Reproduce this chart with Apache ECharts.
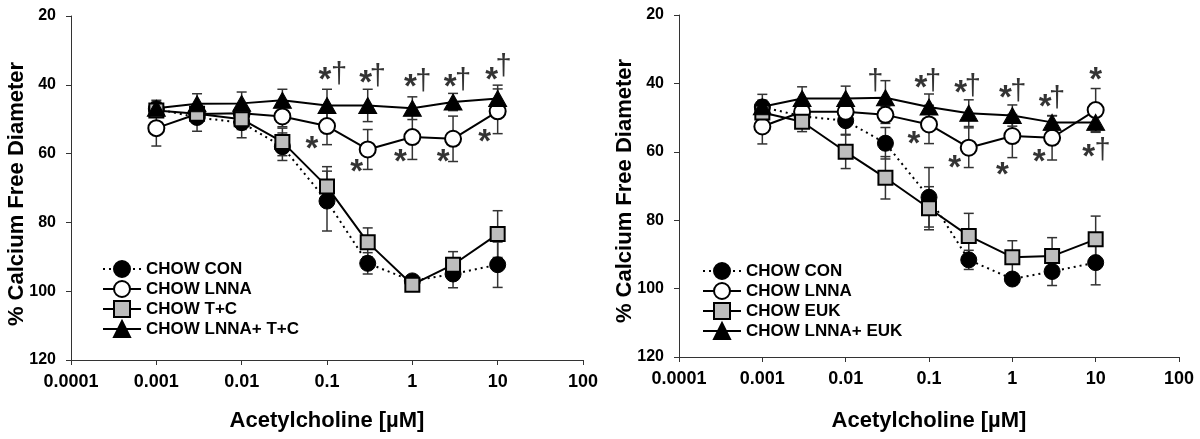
<!DOCTYPE html>
<html><head><meta charset="utf-8">
<script src="https://cdn.jsdelivr.net/npm/echarts@6/dist/echarts.min.js"></script>
<style>html,body{margin:0;padding:0;background:#fff}#c{width:1200px;height:439px}</style>
</head><body><div id="c"></div>
<script>
// ---- data ----
const doses = [0.001, 0.003, 0.01, 0.03, 0.1, 0.3, 1, 3, 10];
const xTickLabels = ['0.0001', '0.001', '0.01', '0.1', '1', '10', '100'];
const yTickLabels = ['20', '40', '60', '80', '100', '120'];
const namesLeft = ['CHOW CON', 'CHOW LNNA', 'CHOW T+C', 'CHOW LNNA+ T+C'];
const namesRight = ['CHOW CON', 'CHOW LNNA', 'CHOW EUK', 'CHOW LNNA+ EUK'];

const conLeft      = [47.0, 49.5, 51.0, 58.0, 73.8, 91.9, 97.0, 95.0, 92.3];
const conLeftErr   = [2.0, 4.0, 4.4, 4.0, 8.7, 3.1, 1.0, 4.0, 6.6];
const lnnaLeft     = [52.6, 48.5, 48.3, 49.2, 52.0, 58.8, 55.2, 55.7, 47.7];
const lnnaLeftErr  = [5.2, 2.5, 2.5, 3.0, 5.4, 5.8, 6.5, 6.6, 6.5];
const tcLeft       = [47.5, 48.4, 50.0, 56.6, 69.6, 85.8, 98.1, 92.3, 83.4];
const tcLeftErr    = [1.5, 2.0, 3.0, 4.0, 5.8, 4.2, 1.0, 3.8, 6.8];
const lnnaTcLeft   = [46.8, 45.5, 45.4, 44.5, 46.0, 46.0, 46.8, 45.0, 44.0];
const lnnaTcLeftErr= [2.3, 2.9, 3.3, 3.2, 4.7, 4.7, 3.3, 2.5, 3.9];

const conRight      = [46.9, 49.6, 50.9, 57.5, 73.3, 91.6, 97.2, 95.0, 92.4];
const conRightErr   = [2.0, 2.5, 4.0, 4.6, 8.7, 2.8, 1.0, 4.1, 6.5];
const lnnaRight     = [52.6, 48.3, 48.3, 49.2, 52.0, 58.8, 55.4, 55.9, 47.8];
const lnnaRightErr  = [5.1, 2.5, 2.5, 2.5, 5.6, 5.8, 6.3, 6.5, 6.3];
const eukRight      = [48.5, 51.2, 60.0, 67.6, 76.5, 84.6, 90.8, 90.5, 85.6];
const eukRightErr   = [1.5, 2.9, 4.9, 6.2, 6.3, 6.6, 4.8, 5.4, 6.8];
const lnnaEukRight  = [46.8, 44.4, 44.4, 44.2, 46.9, 48.7, 49.4, 51.4, 51.4];
const lnnaEukRightErr=[3.6, 3.4, 3.6, 5.0, 3.8, 3.9, 3.1, 1.9, 2.9];

// significance marks: [dose, value, text, horizontal nudge in px]
const marksLeft = [
  [0.1, 37.2, '*', -2], [0.1, 37.1, '†', 12],
  [0.3, 38.1, '*', -2], [0.3, 37.8, '†', 10],
  [1, 39.3, '*', -2], [1, 39.2, '†', 11],
  [3, 39.3, '*', -3], [3, 39.0, '†', 10],
  [10, 37.2, '*', -6], [10, 34.9, '†', 6],
  [0.1, 57.1, '*', -15], [0.3, 63.8, '*', -11], [1, 60.9, '*', -12],
  [3, 60.9, '*', -10], [10, 55.1, '*', -13]
];
const marksRight = [
  [0.03, 39.7, '†', -10],
  [0.1, 39.8, '*', -8], [0.1, 39.5, '†', 4],
  [0.3, 41.2, '*', -8], [0.3, 41.0, '†', 4],
  [1, 42.9, '*', -7], [1, 42.4, '†', 6],
  [3, 45.3, '*', -7], [3, 44.7, '†', 5],
  [10, 37.5, '*', 0],
  [10, 59.9, '*', -7], [10, 59.9, '†', 7],
  [0.1, 56.2, '*', -15], [0.3, 63.3, '*', -14], [1, 65.3, '*', -10], [3, 61.4, '*', -13]
];

// ---- styles ----
const FONT = '"Liberation Sans", Arial, sans-serif';
const markerStyles = [
  { symbol: 'circle', symbolSize: 16, itemStyle: { color: '#000', borderColor: '#000', borderWidth: 1 }, lineStyle: { color: '#000', width: 2, type: [2, 4] } },
  { symbol: 'circle', symbolSize: 16, itemStyle: { color: '#fff', borderColor: '#000', borderWidth: 2 }, lineStyle: { color: '#000', width: 2 } },
  { symbol: 'rect', symbolSize: 14, itemStyle: { color: '#bdbdbd', borderColor: '#000', borderWidth: 2 }, lineStyle: { color: '#000', width: 2 } },
  { symbol: 'triangle', symbolSize: [18, 16], itemStyle: { color: '#000', borderColor: '#000', borderWidth: 1 }, lineStyle: { color: '#000', width: 2 } }
];

function errRender(params, api) {
  const x = api.value(0), y = api.value(1), e = api.value(2);
  const a = api.coord([x, y - e]);
  const b = api.coord([x, y + e]);
  const hw = 5;
  const style = { stroke: '#333', lineWidth: 1.5, fill: null };
  return { type: 'group', children: [
    { type: 'line', shape: { x1: a[0], y1: a[1], x2: b[0], y2: b[1] }, style: style },
    { type: 'line', shape: { x1: a[0] - hw, y1: a[1], x2: a[0] + hw, y2: a[1] }, style: style },
    { type: 'line', shape: { x1: b[0] - hw, y1: b[1], x2: b[0] + hw, y2: b[1] }, style: style }
  ]};
}

function panelSeries(idx, names, vals, errs, marks) {
  const out = [];
  for (let k = 0; k < 4; k++) {
    out.push({
      type: 'custom', xAxisIndex: idx, yAxisIndex: idx, renderItem: errRender,
      data: doses.map((d, i) => [d, vals[k][i], errs[k][i]]),
      encode: { x: 0, y: 1 }, silent: true, z: 2
    });
    const st = markerStyles[k];
    out.push({
      type: 'line', name: names[k], xAxisIndex: idx, yAxisIndex: idx,
      data: doses.map((d, i) => [d, vals[k][i]]),
      symbol: st.symbol, symbolSize: st.symbolSize, showAllSymbol: true,
      itemStyle: st.itemStyle, lineStyle: st.lineStyle, z: 2,
      emphasis: { disabled: true }, animation: false
    });
  }
  out.push({
    type: 'scatter', xAxisIndex: idx, yAxisIndex: idx, symbolSize: 1, z: 5, silent: true,
    itemStyle: { color: 'rgba(0,0,0,0)' },
    data: marks.map(m => ({
      value: [m[0], m[1]],
      label: {
        show: true, position: 'inside', formatter: m[2],
        offset: [m[3], m[2] === '*' ? 6 : 0],
        fontSize: m[2] === '*' ? 33 : 29, fontWeight: m[2] === '*' ? 'bold' : 'normal',
        color: '#000', fontFamily: FONT
      }
    }))
  });
  return out;
}

function xAxisFor(idx) {
  return {
    gridIndex: idx, type: 'log', logBase: 10, min: 0.0001, max: 100,
    axisLine: { onZero: false, lineStyle: { color: '#333', width: 1 } },
    axisTick: { length: 5, lineStyle: { color: '#333' } },
    minorTick: { show: false }, splitLine: { show: false },
    axisLabel: {
      margin: 13, color: '#000', fontSize: 18, fontWeight: 'bold', fontFamily: FONT,
      formatter: v => xTickLabels[Math.round(Math.log10(v)) + 4]
    }
  };
}
function yAxisFor(idx) {
  return {
    gridIndex: idx, type: 'value', inverse: true, min: 20, max: 120, interval: 20,
    axisLine: { show: true, lineStyle: { color: '#333', width: 1 } },
    axisTick: { show: true, length: 5, lineStyle: { color: '#333' } },
    splitLine: { show: false },
    axisLabel: {
      margin: 15, color: '#000', fontSize: 16, fontWeight: 'bold', fontFamily: FONT,
      formatter: v => yTickLabels[Math.round((v - 20) / 20)]
    }
  };
}
function legendFor(names, left, top) {
  return {
    data: names, orient: 'vertical', left: left, top: top,
    itemWidth: 38, itemHeight: 20, itemGap: 2, selectedMode: false,
    textStyle: { fontSize: 17, fontWeight: 'bold', color: '#000', fontFamily: FONT }
  };
}

const chart = echarts.init(document.getElementById('c'), null, { renderer: 'canvas' });
chart.setOption({
  animation: false,
  backgroundColor: '#fff',
  grid: [
    { left: 71, top: 16, width: 512, height: 344 },
    { left: 679, top: 15, width: 500, height: 342 }
  ],
  xAxis: [xAxisFor(0), xAxisFor(1)],
  yAxis: [yAxisFor(0), yAxisFor(1)],
  legend: [legendFor(namesLeft, 97, 255), legendFor(namesRight, 697, 257)],
  series: [].concat(
    panelSeries(0, namesLeft, [conLeft, lnnaLeft, tcLeft, lnnaTcLeft], [conLeftErr, lnnaLeftErr, tcLeftErr, lnnaTcLeftErr], marksLeft),
    panelSeries(1, namesRight, [conRight, lnnaRight, eukRight, lnnaEukRight], [conRightErr, lnnaRightErr, eukRightErr, lnnaEukRightErr], marksRight)
  ),
  graphic: [
    { type: 'text', x: 17, y: 194, rotation: Math.PI / 2, style: { text: '% Calcium Free Diameter', font: 'bold 22px ' + FONT, fill: '#000', textAlign: 'center', textVerticalAlign: 'middle' } },
    { type: 'text', x: 625, y: 191, rotation: Math.PI / 2, style: { text: '% Calcium Free Diameter', font: 'bold 22px ' + FONT, fill: '#000', textAlign: 'center', textVerticalAlign: 'middle' } },
    { type: 'text', x: 327, y: 421, style: { text: 'Acetylcholine [\u00B5M]', font: 'bold 22px ' + FONT, fill: '#000', textAlign: 'center', textVerticalAlign: 'middle' } },
    { type: 'text', x: 929, y: 421, style: { text: 'Acetylcholine [\u00B5M]', font: 'bold 22px ' + FONT, fill: '#000', textAlign: 'center', textVerticalAlign: 'middle' } }
  ]
});
</script>
</body></html>
